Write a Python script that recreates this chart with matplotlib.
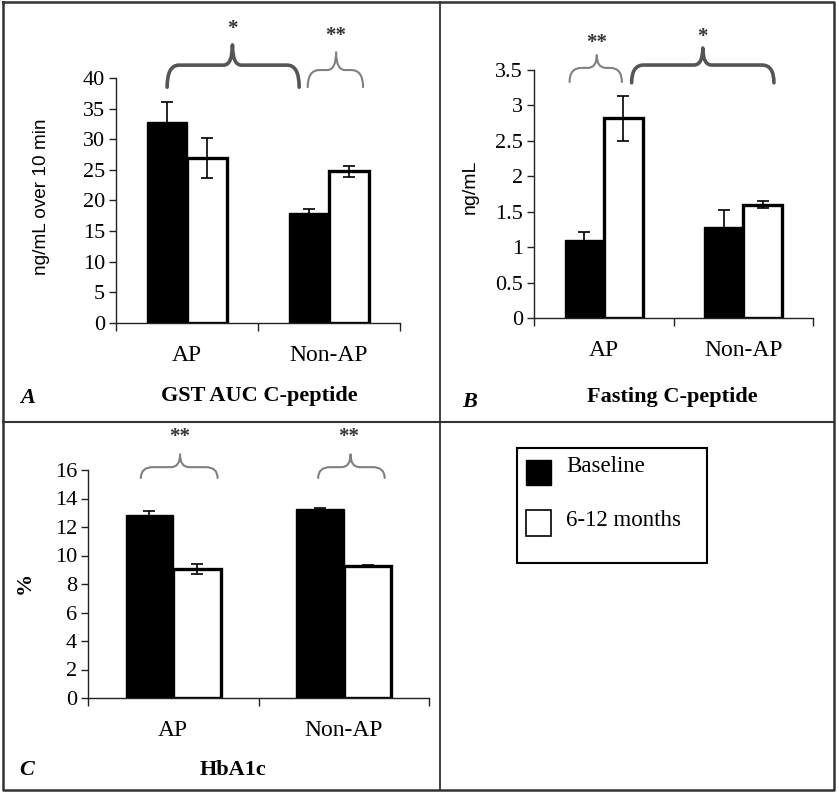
import matplotlib
matplotlib.use("Agg")
import matplotlib.pyplot as plt
from matplotlib.path import Path
from matplotlib.patches import PathPatch, Rectangle
from matplotlib.lines import Line2D

# ---------------- data ----------------
groups = ["AP", "Non-AP"]
series = ["Baseline", "6-12 months"]

gst_baseline = [32.8, 17.9]
gst_baseline_err = [3.3, 0.7]
gst_followup = [26.9, 24.8]
gst_followup_err = [3.3, 0.9]

fast_baseline = [1.10, 1.29]
fast_baseline_err = [0.12, 0.23]
fast_followup = [2.82, 1.60]
fast_followup_err = [0.32, 0.05]

hba_baseline = [12.85, 13.27]
hba_baseline_err = [0.3, 0.08]
hba_followup = [9.05, 9.26]
hba_followup_err = [0.38, 0.06]

W, H = 838, 793
fig = plt.figure(figsize=(W / 100, H / 100), dpi=100)
fig.patch.set_facecolor("white")

SERIF = "Liberation Serif"
SANS = "Liberation Sans"


def px(x, y):
    return x / W, 1 - y / H


def make_axes(left, right, top, bottom):
    return fig.add_axes([left / W, 1 - bottom / H, (right - left) / W, (bottom - top) / H])


def style(ax, ymax, ystep, ticklabels):
    ax.set_xlim(-0.5, 1.5)
    ax.set_ylim(0, ymax)
    for s in ["top", "right"]:
        ax.spines[s].set_visible(False)
    for s in ["left", "bottom"]:
        ax.spines[s].set_color("#222222")
        ax.spines[s].set_linewidth(1.0)
    yt = [i * ystep for i in range(int(round(ymax / ystep)) + 1)]
    ax.set_yticks(yt)
    ax.set_yticklabels(ticklabels, fontfamily=SERIF, fontsize=16)
    ax.tick_params(axis="y", direction="out", length=5, width=1, pad=3, color="#222222")
    ax.set_xticks([-0.5, 0.5, 1.5])
    ax.set_xticklabels(["", "", ""])
    ax.tick_params(axis="x", which="major", direction="out", length=6, width=1, color="#222222")
    ax.set_xticks([0, 1], minor=True)
    ax.set_xticklabels(groups, minor=True, fontfamily=SERIF, fontsize=17)
    ax.tick_params(axis="x", which="minor", length=0, pad=16)
    ax.set_facecolor("none")


def bars(ax, base, base_err, fol, fol_err, width):
    xs = [0, 1]
    ax.bar([x - width / 2 for x in xs], base, width=width, color="black",
           edgecolor="black", linewidth=1, zorder=2)
    ax.bar([x + width / 2 for x in xs], fol, width=width, color="white",
           edgecolor="black", linewidth=2.4, zorder=2)
    ax.errorbar([x - width / 2 for x in xs], base, yerr=base_err, fmt="none",
                ecolor="black", elinewidth=1.2, capsize=4, capthick=1.2, zorder=3)
    ax.errorbar([x + width / 2 for x in xs], fol, yerr=fol_err, fmt="none",
                ecolor="black", elinewidth=1.2, capsize=4, capthick=1.2, zorder=3)


def brace(ax, x0, x1, xp, yb, yh, ypk, thick):
    bb = ax.get_position()
    xunit = bb.width * W / (ax.get_xlim()[1] - ax.get_xlim()[0])
    dx = 12 / xunit
    dp = 9 / xunit
    verts = [(x0, yb), (x0, yh), (x0 + dx, yh),
             (xp - dp, yh),
             (xp, yh), (xp, ypk),
             (xp, yh), (xp + dp, yh),
             (x1 - dx, yh),
             (x1, yh), (x1, yb)]
    codes = [Path.MOVETO, Path.CURVE3, Path.CURVE3,
             Path.LINETO,
             Path.CURVE3, Path.CURVE3,
             Path.CURVE3, Path.CURVE3,
             Path.LINETO,
             Path.CURVE3, Path.CURVE3]
    col = "#555555" if thick else "#808080"
    lw = 2.6 if thick else 1.5
    ax.add_patch(PathPatch(Path(verts, codes), fill=False, edgecolor=col, lw=lw,
                           clip_on=False, capstyle="round", joinstyle="round"))


def star(ax, x, y, s):
    ax.text(x, y, s, ha="center", va="center", fontfamily=SERIF, fontweight="bold",
            fontsize=15, color="#333333", clip_on=False)


BW = 0.28

# ---------------- Panel A ----------------
axA = make_axes(116, 400, 78, 323)
style(axA, 40, 5, [str(v) for v in range(0, 45, 5)])
bars(axA, gst_baseline, gst_baseline_err, gst_followup, gst_followup_err, BW)
brace(axA, -0.14, 0.79, 0.32, 38.5, 42.1, 45.4, True)
brace(axA, 0.85, 1.24, 1.05, 38.5, 41.3, 44.2, False)
star(axA, 0.32, 48.0, "*")
star(axA, 1.05, 46.8, "**")
fig.text(*px(42, 197), "ng/mL over 10 min", rotation=90, ha="center", va="center",
         fontfamily=SANS, fontsize=13.7)
fig.text(*px(259, 396), "GST AUC C-peptide", ha="center", va="center",
         fontfamily=SERIF, fontweight="bold", fontsize=16)
fig.text(*px(28, 398), "A", ha="center", va="center", fontfamily=SERIF,
         fontweight="bold", fontstyle="italic", fontsize=16)

# ---------------- Panel B ----------------
axB = make_axes(534, 813, 70, 318)
style(axB, 3.5, 0.5, ["0", "0.5", "1", "1.5", "2", "2.5", "3", "3.5"])
bars(axB, fast_baseline, fast_baseline_err, fast_followup, fast_followup_err, BW)
brace(axB, -0.245, 0.13, -0.05, 3.33, 3.53, 3.71, False)
brace(axB, 0.20, 1.22, 0.71, 3.32, 3.57, 3.81, True)
star(axB, -0.05, 3.88, "**")
star(axB, 0.71, 3.96, "*")
fig.text(*px(470, 187), "ng/mL", rotation=90, ha="center", va="center",
         fontfamily=SANS, fontsize=14)
fig.text(*px(672, 397), "Fasting C-peptide", ha="center", va="center",
         fontfamily=SERIF, fontweight="bold", fontsize=16)
fig.text(*px(470, 402), "B", ha="center", va="center", fontfamily=SERIF,
         fontweight="bold", fontstyle="italic", fontsize=16)

# ---------------- Panel C ----------------
axC = make_axes(88, 429, 470, 698)
style(axC, 16, 2, [str(v) for v in range(0, 18, 2)])
bars(axC, hba_baseline, hba_baseline_err, hba_followup, hba_followup_err, BW)
brace(axC, -0.19, 0.26, 0.04, 15.44, 16.2, 17.1, False)
brace(axC, 0.85, 1.24, 1.04, 15.44, 16.2, 17.1, False)
star(axC, 0.04, 18.3, "**")
star(axC, 1.03, 18.3, "**")
fig.text(*px(25, 583), "%", rotation=90, ha="center", va="center",
         fontfamily=SERIF, fontweight="bold", fontsize=16)
fig.text(*px(233, 770), "HbA1c", ha="center", va="center",
         fontfamily=SERIF, fontweight="bold", fontsize=16)
fig.text(*px(27, 770), "C", ha="center", va="center", fontfamily=SERIF,
         fontweight="bold", fontstyle="italic", fontsize=16)

# ---------------- Legend ----------------
def fig_rect(x0, y0, x1, y1, fc, lw, ec="black"):
    r = Rectangle(px(x0, y1), (x1 - x0) / W, (y1 - y0) / H, transform=fig.transFigure,
                  facecolor=fc, edgecolor=ec, lw=lw)
    fig.patches.append(r)

fig_rect(517, 448, 707, 563, "white", 1.5)
fig_rect(526, 460, 551, 485, "black", 1.0)
fig_rect(526, 510, 551, 536, "white", 1.2)
fig.text(*px(566, 467), series[0], ha="left", va="center", fontfamily=SERIF, fontsize=16.5)
fig.text(*px(566, 520), series[1], ha="left", va="center", fontfamily=SERIF, fontsize=16.5)

# ---------------- Frame ----------------
def fig_line(xs, ys, lw=1.5, color="#333333"):
    fig.lines.append(Line2D([x / W for x in xs], [1 - y / H for y in ys],
                            transform=fig.transFigure, color=color, lw=lw))

fig_line([3, 834, 834, 3, 3], [2, 2, 790, 790, 2], lw=1.8)
fig_line([440, 440], [2, 790], lw=1.3)
fig_line([3, 834], [422, 422], lw=1.5)

fig.savefig("out.png", dpi=100, facecolor="white")
